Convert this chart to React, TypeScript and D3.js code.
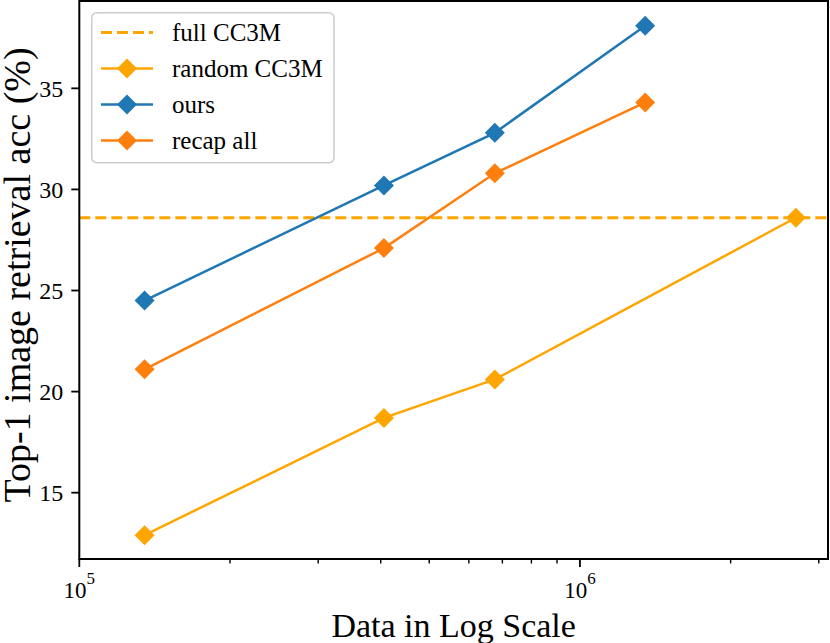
import React from "react";
import * as d3 from "d3";

const xValues = [135000, 406000, 676000, 1350000, 2700000];
const randomCC3M = [12.9, 18.7, 20.6, null, 28.6];
const ours = [24.5, 30.2, 32.8, 38.1, null];
const recapAll = [21.1, 27.1, 30.8, 34.3, null];
const fullCC3M = 28.6;
const yTicks = [15, 20, 25, 30, 35];
const xMajorTicks = [1e5, 1e6];
const xMinorTicks = [2e5, 3e5, 4e5, 5e5, 6e5, 7e5, 8e5, 9e5, 2e6, 3e6];

const W = 830, H = 643;
const L = 79.3, R = 828, T = 1, B = 559;
const FONT = "'Liberation Serif', 'Times New Roman', serif";

const series = [
  { name: "random CC3M", color: "#FFA500", values: randomCC3M },
  { name: "ours", color: "#1f77b4", values: ours },
  { name: "recap all", color: "#ff7f0e", values: recapAll },
];

function Diamond({ x, y, color }: { x: number; y: number; color: string }) {
  const r = 10;
  return (
    <path d={`M${x},${y - r}L${x + r},${y}L${x},${y + r}L${x - r},${y}Z`} fill={color} />
  );
}

export default function App() {
  const x = d3.scaleLog().domain([1e5, 3.13e6]).range([L, R]);
  const y = d3.scaleLinear().domain([11.72, 39.32]).range([B, T]);
  const line = d3
    .line<[number, number | null]>()
    .defined((d) => d[1] !== null)
    .x((d) => x(d[0]))
    .y((d) => y(d[1] as number));

  const legendItems = [
    { name: "full CC3M", color: "#FFA500", dashed: true },
    ...series.map((s) => ({ name: s.name, color: s.color, dashed: false })),
  ];

  return (
    <svg width={W} height={H} style={{ position: "absolute", left: 0, top: 0, fontFamily: FONT }}>
      <rect width={W} height={H} fill="#fff" />
      <line x1={L} x2={R} y1={y(fullCC3M)} y2={y(fullCC3M)} stroke="#FFA500" strokeWidth={3} strokeDasharray="11,5" />
      {series.map((s) => {
        const pts = xValues.map((xv, i) => [xv, s.values[i]] as [number, number | null]).filter((d) => d[1] !== null);
        return (
          <g key={s.name}>
            <path d={line(pts) || ""} fill="none" stroke={s.color} strokeWidth={2.5} />
            {pts.map((d, i) => (
              <Diamond key={i} x={x(d[0])} y={y(d[1] as number)} color={s.color} />
            ))}
          </g>
        );
      })}
      <rect x={L} y={T} width={R - L} height={B - T} fill="none" stroke="#000" strokeWidth={2} />
      {yTicks.map((t) => (
        <g key={t}>
          <line x1={L - 8} x2={L} y1={y(t)} y2={y(t)} stroke="#000" strokeWidth={1.8} />
          <text x={L - 16} y={y(t)} dy="0.35em" textAnchor="end" fontSize={24}>{t}</text>
        </g>
      ))}
      {xMajorTicks.map((t) => (
        <g key={t}>
          <line x1={x(t)} x2={x(t)} y1={B} y2={B + 8} stroke="#000" strokeWidth={1.8} />
          <text x={x(t)} y={B + 39} textAnchor="middle" fontSize={23}>
            10
            <tspan dy={-14} fontSize={17}>{Math.round(Math.log10(t))}</tspan>
          </text>
        </g>
      ))}
      {xMinorTicks.map((t) => (
        <line key={t} x1={x(t)} x2={x(t)} y1={B} y2={B + 4.5} stroke="#000" strokeWidth={1.4} />
      ))}
      <text x={(L + R) / 2} y={637} textAnchor="middle" fontSize={34}>Data in Log Scale</text>
      <text transform={`translate(30,275) rotate(-90)`} textAnchor="middle" fontSize={38}>
        Top-1 image retrieval acc (%)
      </text>
      <rect x={91.7} y={12.7} width={242.3} height={150} rx={5} fill="#fff" fillOpacity={0.8} stroke="#cccccc" strokeWidth={1.5} />
      {legendItems.map((it, i) => {
        const cy = 32.5 + i * 36;
        return (
          <g key={it.name}>
            {it.dashed ? (
              <line x1={101} x2={153} y1={cy} y2={cy} stroke={it.color} strokeWidth={3} strokeDasharray="11,5" />
            ) : (
              <>
                <line x1={101} x2={153} y1={cy} y2={cy} stroke={it.color} strokeWidth={2.5} />
                <Diamond x={127} y={cy} color={it.color} />
              </>
            )}
            <text x={172} y={cy} dy="0.35em" fontSize={25}>{it.name}</text>
          </g>
        );
      })}
    </svg>
  );
}
